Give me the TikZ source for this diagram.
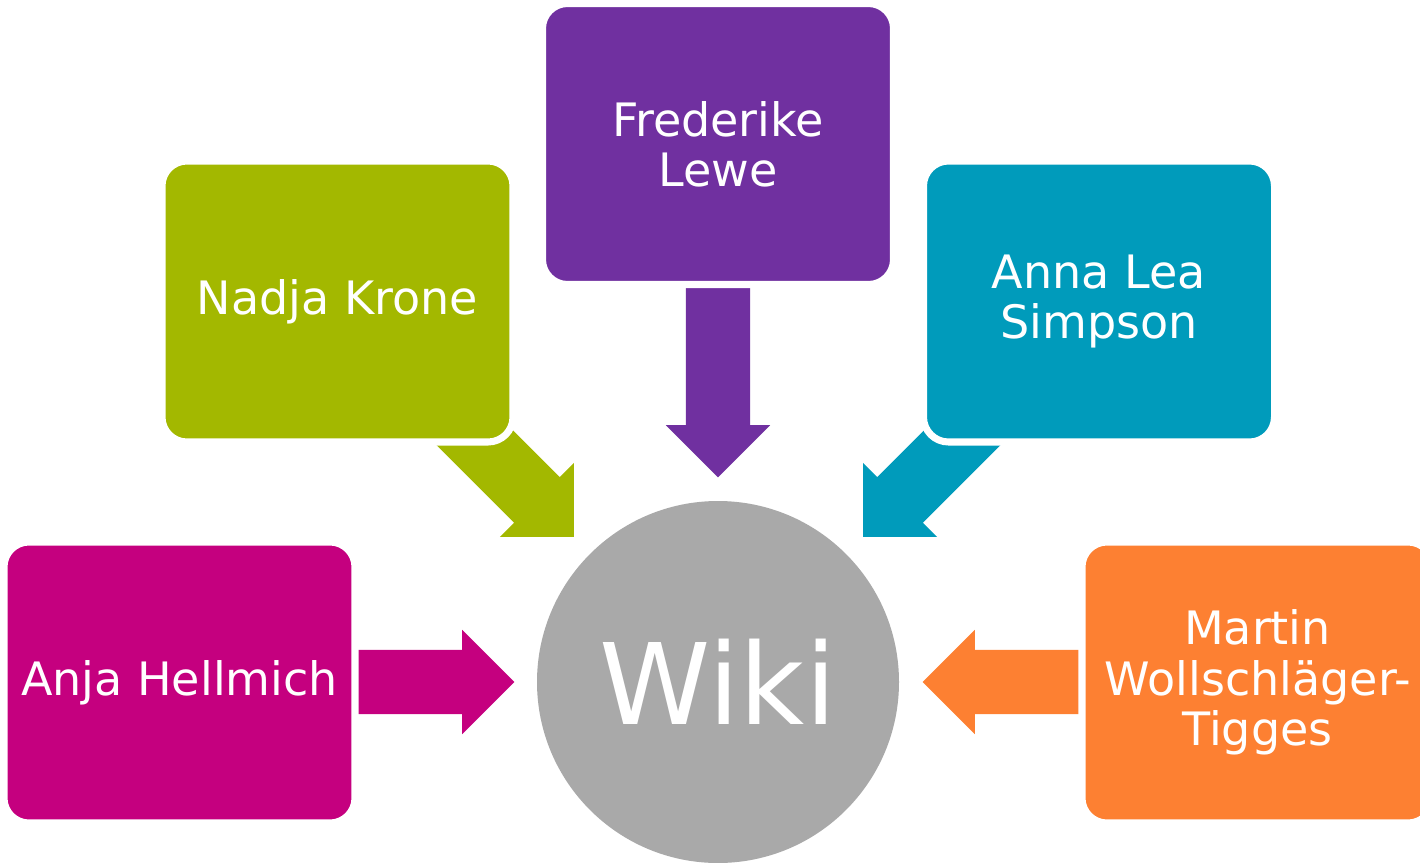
\documentclass[tikz,border=0pt]{standalone}
\usepackage{fontspec}
\setmainfont{DejaVu Sans}
\usetikzlibrary{shapes.arrows}

\definecolor{wikigray}{HTML}{A9A9A9}
\definecolor{fredpurple}{HTML}{7030A0}
\definecolor{nadjagreen}{HTML}{A3B800}
\definecolor{annateal}{HTML}{009BBB}
\definecolor{anjamagenta}{HTML}{C5007F}
\definecolor{martinorange}{HTML}{FD8032}

\begin{document}
\begin{tikzpicture}[every node/.style={text=white, align=center, font=\fontsize{13.1pt}{14.3pt}\selectfont},
                    person/.style={rectangle, rounded corners=2.5mm, draw=white, line width=2pt,
                                   minimum width=35.1mm, minimum height=28.1mm, inner sep=0pt},
                    flow/.style={single arrow, draw=none, anchor=tip, inner sep=0pt,
                                 text height=6.3mm, text depth=0pt,
                                 minimum width=10.3mm, single arrow head extend=2mm}]

                    \useasboundingbox (0,0) rectangle (14.2,8.62);

                    % Centre
                    \node[circle, fill=wikigray, minimum size=36.2mm, inner sep=0pt,
                          font=\fontsize{32pt}{36pt}\selectfont] (wiki) at (7.18,1.80) {Wiki};

                    % Arrows towards the centre
                    \node[flow, fill=fredpurple, minimum height=19.5mm, rotate=-90] (toF) at ([yshift=2.2mm]wiki.north) {};
                    \node[flow, fill=nadjagreen, minimum height=17.3mm, rotate=-45] (toN) at ([xshift=-1.5mm,yshift=1.6mm]wiki.north west) {};
                    \node[flow, fill=annateal, minimum height=17.3mm, rotate=-135] (toL) at ([xshift=1.6mm,yshift=1.6mm]wiki.north east) {};
                    \node[flow, fill=anjamagenta, minimum height=16.2mm] (toA) at ([xshift=-2.1mm]wiki.west) {};
                    \node[flow, fill=martinorange, minimum height=16.1mm, rotate=180] (toM) at ([xshift=2.2mm]wiki.east) {};

                    % People
                    \node[person, fill=fredpurple] (fred) at (7.18,7.18) {Frederike\\Lewe}; % top
                    \node[person, fill=nadjagreen] (nadja) at (3.375,5.605) {Nadja Krone}; % upper left
                    \node[person, fill=annateal] (anna) at (10.99,5.605) {Anna Lea\\Simpson}; % upper right
                    \node[person, fill=anjamagenta] (anja) at (1.795,1.795) {Anja Hellmich}; % left
                    \node[person, fill=martinorange] (martin) at (12.575,1.795) {Martin\\Wollschläger-\\Tigges}; % right
                \end{tikzpicture}
\end{document}
